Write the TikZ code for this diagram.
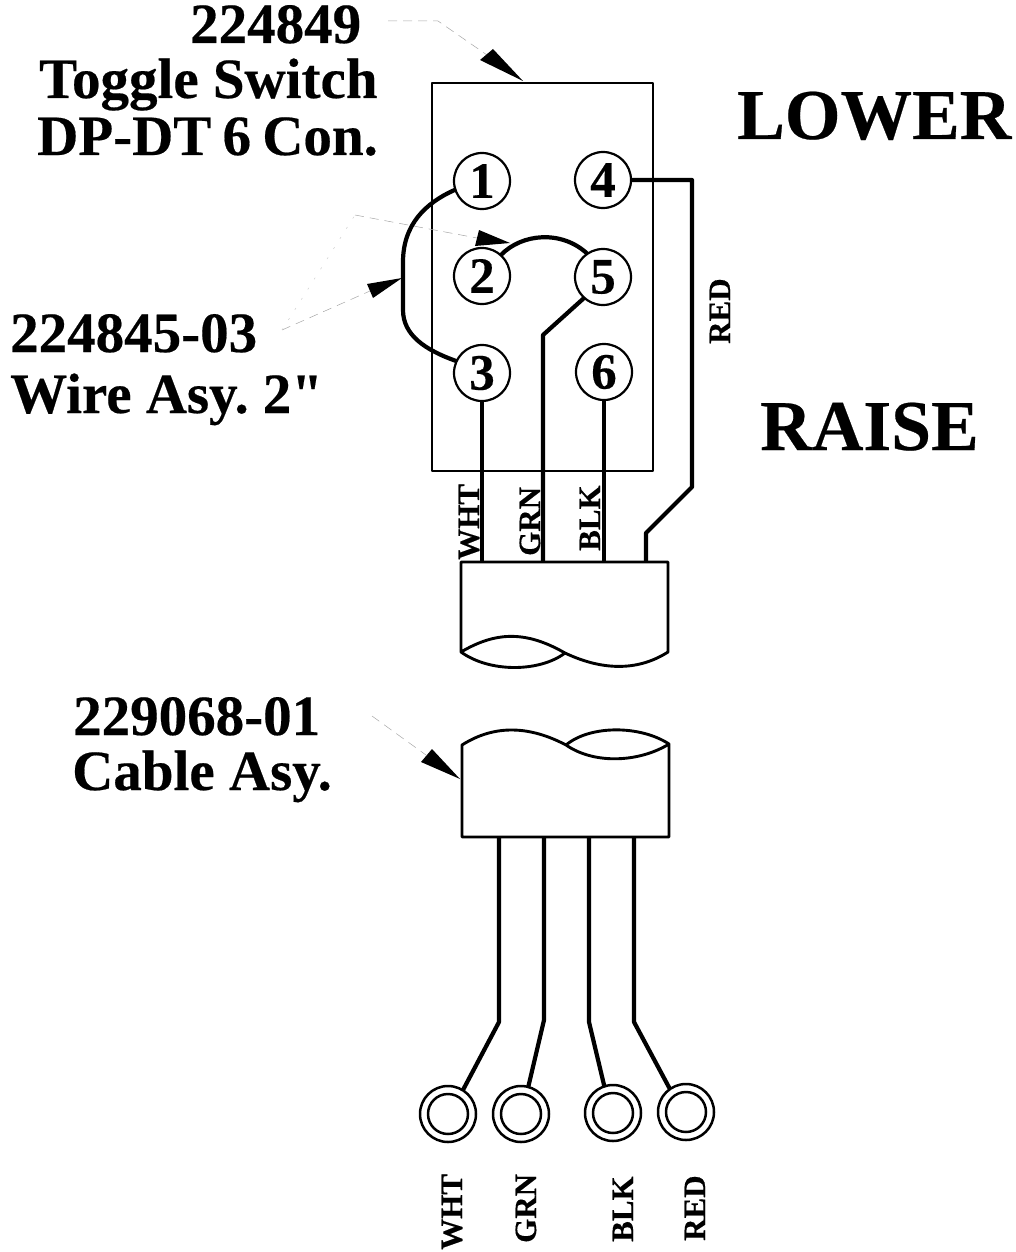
\documentclass[tikz,border=0pt]{standalone}
\usepackage{fontspec}
\setmainfont[BoldFeatures={FakeBold=0.35}]{Liberation Serif}
\newfontfamily\qfont[BoldFeatures={FakeBold=0.35}]{Liberation Serif}
\usetikzlibrary{arrows.meta}
\tikzset{
  lab/.style={font=\bfseries\fontsize{57}{57}\selectfont,anchor=base west,inner sep=0},
  big/.style={font=\bfseries\fontsize{71.5}{72}\selectfont,anchor=base west,inner sep=0},
  small/.style={font=\bfseries\fontsize{31}{31}\selectfont,anchor=base west,inner sep=0,rotate=90},
  pin/.style={circle,draw,line width=2.2pt,minimum size=56pt,inner sep=0,outer sep=0,font=\bfseries\fontsize{51}{51}\selectfont},
  outline/.style={line width=2.9pt,line join=round},
  wire/.style={line width=4.2pt,line join=round},
  leader/.style={line width=0.5pt,black!35,dash pattern=on 9pt off 6pt},
  faint/.style={line width=0.5pt,black!20,dash pattern=on 2pt off 10pt},
  head/.style={fill=black,draw=none},
  ringo/.style={circle,draw,line width=2.5pt,minimum size=56pt,inner sep=0,outer sep=0},
  ringi/.style={circle,draw,line width=2.5pt,minimum size=40pt,inner sep=0,outer sep=0},
}
\begin{document}
\begin{tikzpicture}[x=1pt,y=-1pt]
\useasboundingbox (0,0) rectangle (1016,1252);
% switch body
\node[draw,outline,rectangle,minimum width=221pt,minimum height=388pt,inner sep=0,outer sep=0] (sw) at (542.5,277) {};
% contacts
\node[pin] (c1) at (482,181) {1};
\node[pin] (c2) at (482,276) {2};
\node[pin] (c3) at (482,373) {3};
\node[pin] (c4) at (603,180) {4};
\node[pin] (c5) at (603,277) {5};
\node[pin] (c6) at (604,372) {6};
% cable upper part
\coordinate (ua) at (461,562);
\coordinate (ub) at (668,562);
\coordinate (ul) at (461,652);
\coordinate (um) at (565,653);
\coordinate (ur) at (668,652);
\draw[outline] (ul) -- (ua) -- (ub) -- (ur)
  .. controls (640,670) and (605,672) .. (um)
  .. controls (525,630) and (495,632) .. (ul)
  .. controls (490,673) and (540,672) .. (um);
% cable lower part
\coordinate (ll) at (462,745);
\coordinate (lm) at (566,745);
\coordinate (lr) at (669,744);
\coordinate (lb) at (669,837);
\coordinate (la) at (462,837);
\draw[outline] (lm) .. controls (590,725) and (640,725) .. (lr)
  .. controls (640,762) and (595,765) .. (lm)
  .. controls (530,726) and (495,724) .. (ll)
  -- (la) -- (lb) -- (lr);
% terminals
\node[ringo] (t1) at (448,1114) {};
\node[ringi] at (t1) {};
\node[ringo] (t2) at (521,1114) {};
\node[ringi] at (t2) {};
\node[ringo] (t3) at (613,1113) {};
\node[ringi] at (t3) {};
\node[ringo] (t4) at (686,1112) {};
\node[ringi] at (t4) {};
% wires in switch
\coordinate (w3) at (482,562);
\coordinate (w5) at (543,562);
\coordinate (w6) at (604,562);
\coordinate (w4) at (646,562);
\draw[wire] (c1.198) .. controls (425,203) and (403,225) .. (403,262)
  -- (403,310) .. controls (403,335) and (425,350) .. (c3.155);
\draw[wire] (c2.48) .. controls (522,233) and (562,230) .. (c5.124);
\draw[wire] (c3.south) -- (w3);
\draw[wire] (c5.228) -- (543,335) -- (w5);
\draw[wire] (c6.south) -- (w6);
\draw[wire] (c4.east) -- (692,180) -- (692,487) -- (646,533) -- (w4);
% wires lower
\coordinate (b1) at (499,837);
\coordinate (b2) at (544,837);
\coordinate (b3) at (589,837);
\coordinate (b4) at (634,837);
\draw[wire] (b1) -- (499,1022) -- (t1.58);
\draw[wire] (b2) -- (544,1020) -- (t2.75);
\draw[wire] (b3) -- (589,1022) -- (t3.108);
\draw[wire] (b4) -- (634,1022) -- (t4.125);
% leaders
\draw[leader] (388,21) -- (438,21) -- (487,55);
\draw[leader] (355,215) -- (477,238);
\draw[leader] (282,330) -- (370,291);
\draw[faint] (282,330) -- (355,215);
\draw[leader] (372,716) -- (426,755);
\fill[head] (523,81) -- (493,49) -- (480,60) -- cycle;
\fill[head] (510,243) -- (479,230) -- (475,246) -- cycle;
\fill[head] (402,278) -- (367,284) -- (373,298) -- cycle;
\fill[head] (460,779) -- (432,749) -- (421,762) -- cycle;
% labels
\node[lab] (t224849) at (190,43) {224849};
\node[lab] (ttoggle) at (39,98) {Toggle Switch};
\node[lab] (tdpdt) at (37,155) {DP-DT\hspace{-3pt} 6\hspace{-3pt} Con.};
\node[lab] (t224845) at (10,352) {224845-03};
\node[lab] (twire) at (10,413) {Wire Asy.\hspace{-5pt} 2{\qfont\bfseries "}};
\node[lab] (t229068) at (73,735) {229068-01};
\node[lab] (tcable) at (72,790) {Cable Asy.};
\node[big] (tlower) at (737,139) {LOWER};
\node[big] (traise) at (760,450) {RAISE};
\node[small] (s1) at (479,560) {WHT};
\node[small] (s2) at (540,556) {GRN};
\node[small] (s3) at (600,551) {BLK};
\node[small] (s4) at (730,344) {RED};
\node[small] (s5) at (462,1250) {WHT};
\node[small] (s6) at (536,1243) {GRN};
\node[small] (s7) at (633,1242) {BLK};
\node[small] (s8) at (705,1241) {RED};
\end{tikzpicture}
\end{document}
